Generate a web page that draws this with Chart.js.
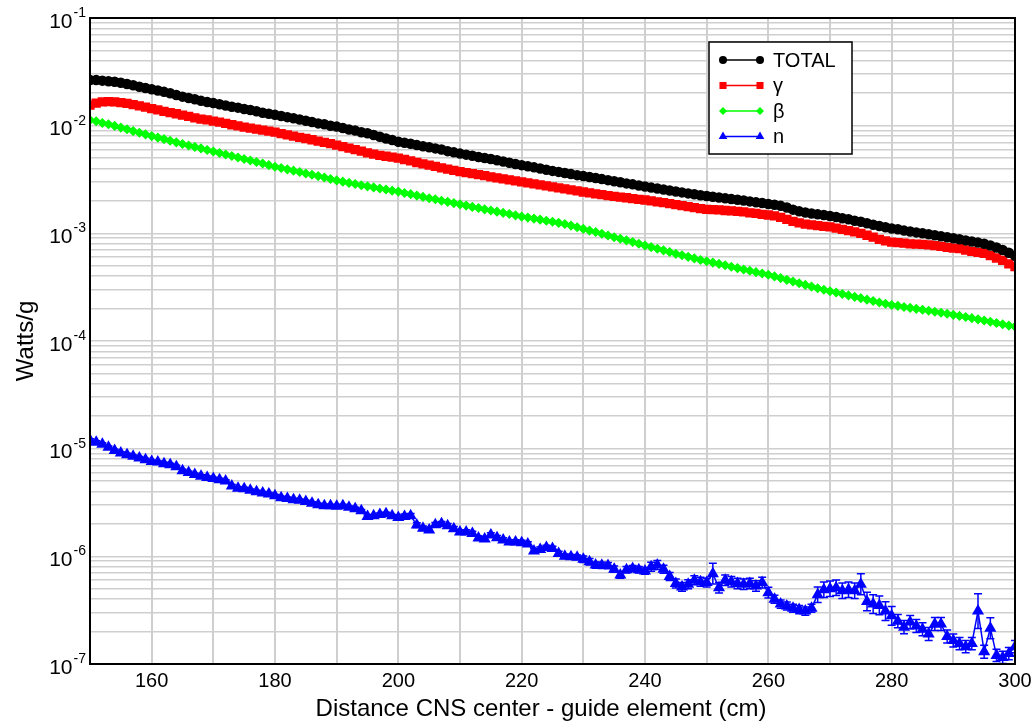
<!DOCTYPE html>
<html>
<head>
<meta charset="utf-8">
<title>Watts/g vs distance</title>
<script src="https://cdn.jsdelivr.net/npm/chart.js@4.4.1/dist/chart.umd.min.js"></script>
<style>
  html, body { margin: 0; padding: 0; background: #fff; }
</style>
</head>
<body>
<canvas id="myChart" width="1034" height="722"></canvas>
<script>
// distance CNS center - guide element (cm), one point per cm
const distance = [];
for (let d = 150; d <= 300; d++) distance.push(d);

const seriesLabels = ['TOTAL', 'γ', 'β', 'n'];

// Watts/g
const total = [
  26.5e-3, 26.5e-3, 26.2e-3, 25.9e-3, 25.6e-3, 25.0e-3, 24.4e-3, 23.7e-3, 23.0e-3, 22.4e-3,
  21.8e-3, 21.2e-3, 20.6e-3, 20.0e-3, 19.3e-3, 18.6e-3, 18.1e-3, 17.6e-3, 17.0e-3, 16.6e-3,
  16.2e-3, 15.8e-3, 15.4e-3, 15.0e-3, 14.7e-3, 14.3e-3, 14.0e-3, 13.6e-3, 13.2e-3, 12.9e-3,
  12.6e-3, 12.3e-3, 12.0e-3, 11.7e-3, 11.4e-3, 11.1e-3, 10.8e-3, 10.5e-3, 10.3e-3, 10.0e-3,
  9.8e-3, 9.5e-3, 9.2e-3, 9.0e-3, 8.7e-3, 8.5e-3, 8.2e-3, 7.9e-3, 7.6e-3, 7.35e-3,
  7.1e-3, 6.95e-3, 6.8e-3, 6.6e-3, 6.45e-3, 6.3e-3, 6.15e-3, 6.0e-3, 5.8e-3, 5.65e-3,
  5.5e-3, 5.38e-3, 5.25e-3, 5.12e-3, 5.0e-3, 4.9e-3, 4.78e-3, 4.65e-3, 4.52e-3, 4.4e-3,
  4.3e-3, 4.2e-3, 4.1e-3, 4.0e-3, 3.9e-3, 3.8e-3, 3.72e-3, 3.63e-3, 3.55e-3, 3.47e-3,
  3.4e-3, 3.33e-3, 3.26e-3, 3.19e-3, 3.12e-3, 3.05e-3, 2.98e-3, 2.91e-3, 2.85e-3, 2.78e-3,
  2.72e-3, 2.66e-3, 2.61e-3, 2.55e-3, 2.5e-3, 2.45e-3, 2.4e-3, 2.35e-3, 2.31e-3, 2.26e-3,
  2.22e-3, 2.19e-3, 2.15e-3, 2.12e-3, 2.08e-3, 2.05e-3, 2.02e-3, 1.98e-3, 1.94e-3, 1.91e-3,
  1.87e-3, 1.84e-3, 1.8e-3, 1.74e-3, 1.66e-3, 1.6e-3, 1.56e-3, 1.53e-3, 1.5e-3, 1.48e-3,
  1.45e-3, 1.42e-3, 1.38e-3, 1.35e-3, 1.31e-3, 1.28e-3, 1.24e-3, 1.2e-3, 1.17e-3, 1.14e-3,
  1.11e-3, 1.09e-3, 1.06e-3, 1.04e-3, 1.02e-3, 1.0e-3, 0.98e-3, 0.96e-3, 0.94e-3, 0.92e-3,
  0.90e-3, 0.88e-3, 0.86e-3, 0.84e-3, 0.82e-3, 0.80e-3, 0.77e-3, 0.74e-3, 0.70e-3, 0.66e-3,
  0.62e-3
];

const gamma = [
  15.5e-3, 16.2e-3, 16.6e-3, 16.7e-3, 16.6e-3, 16.4e-3, 16.1e-3, 15.7e-3, 15.3e-3, 14.9e-3,
  14.4e-3, 14.0e-3, 13.6e-3, 13.2e-3, 12.9e-3, 12.5e-3, 12.2e-3, 11.8e-3, 11.5e-3, 11.3e-3,
  11.0e-3, 10.8e-3, 10.5e-3, 10.2e-3, 9.95e-3, 9.7e-3, 9.5e-3, 9.3e-3, 9.1e-3, 8.9e-3,
  8.7e-3, 8.45e-3, 8.2e-3, 8.0e-3, 7.8e-3, 7.6e-3, 7.4e-3, 7.2e-3, 7.0e-3, 6.8e-3,
  6.6e-3, 6.4e-3, 6.2e-3, 6.0e-3, 5.8e-3, 5.6e-3, 5.45e-3, 5.3e-3, 5.2e-3, 5.1e-3,
  5.0e-3, 4.85e-3, 4.7e-3, 4.55e-3, 4.42e-3, 4.3e-3, 4.18e-3, 4.06e-3, 3.95e-3, 3.85e-3,
  3.75e-3, 3.67e-3, 3.59e-3, 3.51e-3, 3.43e-3, 3.35e-3, 3.28e-3, 3.21e-3, 3.14e-3, 3.07e-3,
  3.0e-3, 2.94e-3, 2.88e-3, 2.82e-3, 2.76e-3, 2.7e-3, 2.64e-3, 2.59e-3, 2.53e-3, 2.48e-3,
  2.42e-3, 2.38e-3, 2.33e-3, 2.29e-3, 2.24e-3, 2.2e-3, 2.17e-3, 2.14e-3, 2.1e-3, 2.07e-3,
  2.04e-3, 2.0e-3, 1.96e-3, 1.93e-3, 1.89e-3, 1.85e-3, 1.81e-3, 1.77e-3, 1.73e-3, 1.7e-3,
  1.67e-3, 1.66e-3, 1.65e-3, 1.63e-3, 1.62e-3, 1.6e-3, 1.58e-3, 1.55e-3, 1.53e-3, 1.5e-3,
  1.48e-3, 1.45e-3, 1.41e-3, 1.35e-3, 1.29e-3, 1.25e-3, 1.22e-3, 1.2e-3, 1.18e-3, 1.16e-3,
  1.15e-3, 1.12e-3, 1.09e-3, 1.06e-3, 1.03e-3, 1.0e-3, 0.96e-3, 0.92e-3, 0.88e-3, 0.85e-3,
  0.83e-3, 0.82e-3, 0.81e-3, 0.80e-3, 0.795e-3, 0.79e-3, 0.78e-3, 0.77e-3, 0.755e-3, 0.74e-3,
  0.73e-3, 0.72e-3, 0.70e-3, 0.68e-3, 0.665e-3, 0.65e-3, 0.62e-3, 0.59e-3, 0.56e-3, 0.52e-3,
  0.49e-3
];

const beta = [
  11.3e-3, 11.0e-3, 10.6e-3, 10.3e-3, 9.95e-3, 9.6e-3, 9.25e-3, 8.9e-3, 8.6e-3, 8.3e-3,
  8.0e-3, 7.75e-3, 7.5e-3, 7.25e-3, 7.0e-3, 6.75e-3, 6.55e-3, 6.35e-3, 6.15e-3, 5.95e-3,
  5.75e-3, 5.57e-3, 5.4e-3, 5.23e-3, 5.06e-3, 4.9e-3, 4.75e-3, 4.6e-3, 4.45e-3, 4.3e-3,
  4.15e-3, 4.04e-3, 3.93e-3, 3.82e-3, 3.71e-3, 3.6e-3, 3.5e-3, 3.4e-3, 3.3e-3, 3.2e-3,
  3.1e-3, 3.02e-3, 2.94e-3, 2.87e-3, 2.8e-3, 2.73e-3, 2.67e-3, 2.61e-3, 2.55e-3, 2.49e-3,
  2.44e-3, 2.37e-3, 2.31e-3, 2.24e-3, 2.18e-3, 2.12e-3, 2.07e-3, 2.01e-3, 1.96e-3, 1.91e-3,
  1.86e-3, 1.81e-3, 1.76e-3, 1.72e-3, 1.67e-3, 1.63e-3, 1.59e-3, 1.55e-3, 1.51e-3, 1.47e-3,
  1.43e-3, 1.4e-3, 1.37e-3, 1.34e-3, 1.31e-3, 1.28e-3, 1.25e-3, 1.22e-3, 1.18e-3, 1.14e-3,
  1.1e-3, 1.06e-3, 1.03e-3, 0.99e-3, 0.955e-3, 0.92e-3, 0.89e-3, 0.86e-3, 0.83e-3, 0.80e-3,
  0.77e-3, 0.745e-3, 0.72e-3, 0.695e-3, 0.67e-3, 0.645e-3, 0.625e-3, 0.605e-3, 0.585e-3, 0.565e-3,
  0.55e-3, 0.535e-3, 0.52e-3, 0.505e-3, 0.49e-3, 0.475e-3, 0.462e-3, 0.449e-3, 0.436e-3, 0.424e-3,
  0.412e-3, 0.398e-3, 0.384e-3, 0.37e-3, 0.357e-3, 0.344e-3, 0.332e-3, 0.32e-3, 0.309e-3, 0.299e-3,
  0.29e-3, 0.282e-3, 0.273e-3, 0.265e-3, 0.257e-3, 0.25e-3, 0.242e-3, 0.235e-3, 0.228e-3, 0.222e-3,
  0.216e-3, 0.212e-3, 0.207e-3, 0.203e-3, 0.199e-3, 0.195e-3, 0.191e-3, 0.187e-3, 0.183e-3, 0.179e-3,
  0.175e-3, 0.171e-3, 0.167e-3, 0.163e-3, 0.159e-3, 0.155e-3, 0.151e-3, 0.147e-3, 0.143e-3, 0.139e-3,
  0.136e-3
];

const neutron = [
  120e-7, 115e-7, 110e-7, 103e-7, 96e-7, 91e-7, 88e-7, 85e-7, 82e-7, 79e-7,
  76e-7, 75e-7, 72.6e-7, 71e-7, 68e-7, 62.5e-7, 60e-7, 57.5e-7, 55.5e-7, 54e-7,
  52.7e-7, 51.5e-7, 50e-7, 45e-7, 43e-7, 42.5e-7, 41e-7, 39.8e-7, 38.8e-7, 38e-7,
  36.5e-7, 35e-7, 34.5e-7, 33.6e-7, 33.1e-7, 32.3e-7, 31.2e-7, 30.2e-7, 29.5e-7, 29.5e-7,
  29.2e-7, 29.5e-7, 28.5e-7, 27.7e-7, 26.5e-7, 23.5e-7, 23.8e-7, 24.5e-7, 24.9e-7, 23.8e-7,
  22.9e-7, 23.5e-7, 23.8e-7, 19.5e-7, 18.2e-7, 17.6e-7, 19.6e-7, 20.1e-7, 19.2e-7, 18.0e-7,
  16.8e-7, 16.8e-7, 16.3e-7, 14.8e-7, 14.5e-7, 15.8e-7, 14.9e-7, 14.2e-7, 13.6e-7, 13.6e-7,
  13.4e-7, 13.0e-7, 11.2e-7, 11.6e-7, 12.1e-7, 11.8e-7, 10.6e-7, 10.0e-7, 9.9e-7, 9.8e-7,
  9.4e-7, 8.9e-7, 8.3e-7, 8.25e-7, 8.2e-7, 7.6e-7, 6.7e-7, 7.5e-7, 7.7e-7, 7.5e-7,
  7.3e-7, 8.0e-7, 8.3e-7, 7.6e-7, 6.5e-7, 5.6e-7, 5.2e-7, 5.5e-7, 6.0e-7, 5.8e-7,
  5.7e-7, 6.9e-7, 5.1e-7, 6.0e-7, 5.8e-7, 5.6e-7, 5.5e-7, 5.6e-7, 5.3e-7, 5.7e-7,
  4.6e-7, 4.0e-7, 3.6e-7, 3.45e-7, 3.3e-7, 3.2e-7, 3.1e-7, 3.3e-7, 4.4e-7, 4.9e-7,
  5.0e-7, 5.1e-7, 4.8e-7, 4.9e-7, 4.8e-7, 5.5e-7, 3.8e-7, 3.6e-7, 3.5e-7, 3.1e-7,
  2.8e-7, 2.5e-7, 2.2e-7, 2.45e-7, 2.25e-7, 2.1e-7, 1.9e-7, 2.35e-7, 2.35e-7, 1.8e-7,
  1.65e-7, 1.55e-7, 1.45e-7, 1.55e-7, 3.1e-7, 1.3e-7, 2.15e-7, 1.2e-7, 1.15e-7, 1.25e-7,
  1.45e-7
];

// relative error of the n series (upper bar = v*(1+e), lower = v/(1+e))
const neutronErr = [
  0.03, 0.03, 0.03, 0.03, 0.03, 0.03, 0.03, 0.03, 0.03, 0.03,
  0.03, 0.03, 0.03, 0.03, 0.03, 0.03, 0.03, 0.03, 0.03, 0.03,
  0.03, 0.03, 0.03, 0.03, 0.03, 0.03, 0.03, 0.03, 0.03, 0.03,
  0.03, 0.03, 0.03, 0.03, 0.03, 0.03, 0.03, 0.03, 0.03, 0.03,
  0.03, 0.03, 0.03, 0.03, 0.03, 0.03, 0.03, 0.03, 0.03, 0.03,
  0.05, 0.05, 0.05, 0.05, 0.05, 0.05, 0.05, 0.05, 0.05, 0.05,
  0.05, 0.05, 0.05, 0.05, 0.05, 0.05, 0.05, 0.05, 0.05, 0.05,
  0.05, 0.05, 0.05, 0.05, 0.05, 0.05, 0.05, 0.05, 0.05, 0.05,
  0.07, 0.07, 0.07, 0.07, 0.07, 0.07, 0.07, 0.07, 0.07, 0.07,
  0.07, 0.10, 0.10, 0.09, 0.09, 0.10, 0.10, 0.10, 0.10, 0.10,
  0.10, 0.25, 0.12, 0.12, 0.12, 0.12, 0.12, 0.12, 0.12, 0.12,
  0.12, 0.09, 0.09, 0.09, 0.09, 0.09, 0.09, 0.09, 0.18, 0.18,
  0.18, 0.18, 0.18, 0.18, 0.18, 0.25, 0.22, 0.22, 0.22, 0.22,
  0.22, 0.15, 0.15, 0.15, 0.15, 0.15, 0.15, 0.15, 0.15, 0.15,
  0.15, 0.14, 0.14, 0.14, 0.45, 0.15, 0.25, 0.14, 0.14, 0.14,
  0.14
];

const xTickLabels = [160, 180, 200, 220, 240, 260, 280, 300];
const yDecades = [-7, -6, -5, -4, -3, -2, -1];

const FONT = '"Liberation Sans", Arial, Helvetica, sans-serif';

function points(values) {
  return distance.map((d, i) => ({ x: d, y: values[i] }));
}

// gridlines at 1..9 x 10^n
const yGrid = [];
yDecades.forEach(e => {
  for (let m = 1; m <= 9; m++) {
    if (e === -1 && m > 1) break;
    yGrid.push(m * Math.pow(10, e));
  }
});

// error bars on the n series
const errorBars = {
  id: 'errorBars',
  afterDatasetsDraw(chart) {
    const { ctx, chartArea: a, scales } = chart;
    ctx.save();
    ctx.beginPath();
    ctx.rect(a.left, a.top, a.right - a.left, a.bottom - a.top);
    ctx.clip();
    ctx.strokeStyle = '#0000ff';
    ctx.lineWidth = 1.5;
    neutron.forEach((v, i) => {
      const px = scales.x.getPixelForValue(distance[i]);
      const top = scales.y.getPixelForValue(v * (1 + neutronErr[i]));
      const bot = scales.y.getPixelForValue(v / (1 + neutronErr[i]));
      ctx.beginPath();
      ctx.moveTo(px, top); ctx.lineTo(px, bot);
      ctx.moveTo(px - 4, top); ctx.lineTo(px + 4, top);
      ctx.moveTo(px - 4, bot); ctx.lineTo(px + 4, bot);
      ctx.stroke();
    });
    ctx.restore();
  }
};

// frame, tick labels, axis titles and the legend box
const decorations = {
  id: 'decorations',
  afterDraw(chart) {
    const { ctx, chartArea: a, scales } = chart;
    ctx.save();
    ctx.strokeStyle = '#000';
    ctx.lineWidth = 2;
    ctx.strokeRect(a.left, a.top, a.right - a.left, a.bottom - a.top);

    ctx.fillStyle = '#000';
    ctx.textBaseline = 'middle';

    // y labels 10^n
    yDecades.forEach(e => {
      const y = scales.y.getPixelForValue(Math.pow(10, e));
      const expTxt = String(e);
      ctx.font = '14px ' + FONT;
      const ew = ctx.measureText(expTxt).width;
      ctx.textAlign = 'left';
      ctx.fillText(expTxt, a.left - 4 - ew, y - 5);
      ctx.font = '21px ' + FONT;
      ctx.textAlign = 'right';
      ctx.fillText('10', a.left - 5 - ew, y + 4);
    });

    // x labels
    ctx.font = '20px ' + FONT;
    ctx.textAlign = 'center';
    xTickLabels.forEach(v => {
      ctx.fillText(String(v), scales.x.getPixelForValue(v), a.bottom + 17);
    });

    // axis titles
    ctx.font = '24px ' + FONT;
    ctx.fillText('Distance CNS center - guide element (cm)', 541, a.bottom + 45);
    ctx.save();
    ctx.translate(26, (a.top + a.bottom) / 2);
    ctx.rotate(-Math.PI / 2);
    ctx.font = '24px ' + FONT;
    ctx.fillText('Watts/g', 0, 0);
    ctx.restore();

    // legend
    const lx = a.right - 306, ly = a.top + 24, lw = 143, lh = 112;
    ctx.fillStyle = '#fff';
    ctx.fillRect(lx, ly, lw, lh);
    ctx.strokeStyle = '#000';
    ctx.lineWidth = 1.5;
    ctx.strokeRect(lx, ly, lw, lh);
    chart.data.datasets.forEach((ds, i) => {
      const y = ly + 18 + i * 25.5;
      const x0 = lx + 14, x1 = lx + 51;
      ctx.strokeStyle = ds.borderColor;
      ctx.lineWidth = 1.5;
      ctx.beginPath();
      ctx.moveTo(x0, y); ctx.lineTo(x1, y);
      ctx.stroke();
      ctx.fillStyle = ds.borderColor;
      const opts = { pointStyle: ds.pointStyle, radius: ds.legendRadius, rotation: 0, borderWidth: 0 };
      Chart.helpers.drawPoint(ctx, opts, x0, y);
      Chart.helpers.drawPoint(ctx, opts, x1, y);
      ctx.fillStyle = '#000';
      ctx.font = '20px ' + FONT;
      ctx.textAlign = 'left';
      ctx.fillText(ds.label, lx + 64, y + 1);
    });
    ctx.restore();
  }
};

const ctx = document.getElementById('myChart').getContext('2d');

const myChart = new Chart(ctx, {
  type: 'line',
  data: {
    datasets: [{
      label: seriesLabels[0],
      data: points(total),
      borderColor: '#000000',
      backgroundColor: '#000000',
      pointStyle: 'circle',
      pointRadius: 4.5,
      legendRadius: 4,
      borderWidth: 1.5
    }, {
      label: seriesLabels[1],
      data: points(gamma),
      borderColor: '#ff0000',
      backgroundColor: '#ff0000',
      pointStyle: 'rect',
      pointRadius: 5.5,
      legendRadius: 5,
      borderWidth: 1.5
    }, {
      label: seriesLabels[2],
      data: points(beta),
      borderColor: '#00ff00',
      backgroundColor: '#00ff00',
      pointStyle: 'rectRot',
      pointRadius: 4,
      legendRadius: 4,
      borderWidth: 1.5
    }, {
      label: seriesLabels[3],
      data: points(neutron),
      borderColor: '#0000ff',
      backgroundColor: '#0000ff',
      pointStyle: 'triangle',
      pointRadius: 5.5,
      legendRadius: 5,
      borderWidth: 1.5
    }]
  },
  options: {
    responsive: false,
    animation: false,
    devicePixelRatio: 1,
    layout: { padding: { top: 18, right: 19, left: 0, bottom: 0 } },
    elements: { point: { borderWidth: 0 }, line: { tension: 0 } },
    plugins: {
      legend: { display: false },
      tooltip: { enabled: false }
    },
    scales: {
      x: {
        type: 'linear',
        min: 150,
        max: 300,
        ticks: { stepSize: 10, display: false },
        grid: { color: '#cfcfcf', lineWidth: 2, drawTicks: false },
        border: { display: false },
        afterFit(s) { s.height = 58; }
      },
      y: {
        type: 'logarithmic',
        min: 1e-7,
        max: 1e-1,
        ticks: { display: false },
        afterBuildTicks(s) { s.ticks = yGrid.map(v => ({ value: v })); },
        grid: { color: '#cfcfcf', lineWidth: 1.6, drawTicks: false },
        border: { display: false },
        afterFit(s) { s.width = 90; }
      }
    }
  },
  plugins: [errorBars, decorations]
});
</script>
</body>
</html>
